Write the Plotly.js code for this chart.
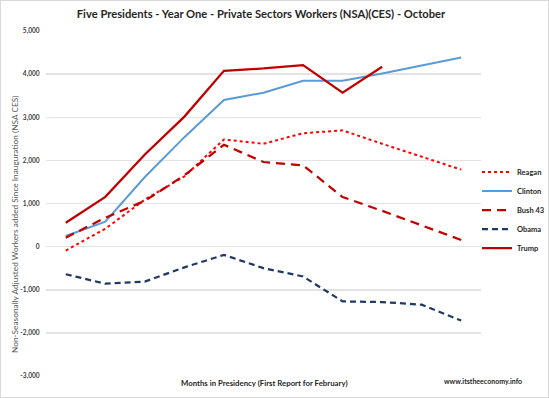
<!DOCTYPE html>
<html>
<head>
<meta charset="utf-8">
<script src="https://cdn.plot.ly/plotly-3.0.1.min.js"></script>
<style>
html,body{margin:0;padding:0;background:#fff;}
#wrap{position:relative;width:549px;height:398px;}
#chart{width:549px;height:398px;}
#frame{position:absolute;left:0;top:0;width:549px;height:398px;box-sizing:border-box;border:1px solid #D9D9D9;pointer-events:none;}
</style>
</head>
<body>
<div id="wrap"><div id="chart"></div><div id="frame"></div></div>
<script>
const months = [1,2,3,4,5,6,7,8,9,10,11];
const monthLabels = ["1","2","3","4","5","6","7","8","9","10","11"];
const reagan  = [-90, 415, 1090, 1630, 2485, 2385, 2630, 2695, 2385, 2090, 1785];
const clinton = [246, 577, 1615, 2538, 3400, 3570, 3846, 3846, 4015, 4208, 4385];
const bush43  = [208, 670, 1062, 1654, 2362, 1962, 1885, 1150, 830, 500, 154];
const obama   = [-640, -860, -810, -480, -192, -500, -692, -1270, -1285, -1346, -1715];
const trump   = [554, 1154, 2138, 3015, 4077, 4131, 4208, 3569, 4170];
const yTickVals = [-3000,-2000,-1000,0,1000,2000,3000,4000,5000];
const yTickText = ["-3,000","-2,000","-1,000","0","1,000","2,000","3,000","4,000","5,000"];

const FONT = "Lato, 'Open Sans', sans-serif";
// plot area in px: x 46..481, y 31..376
const PL = 46, PW = 435, PT = 31, PH = 345;
const px = v => (v - PL) / PW;
const py = v => (PT + PH - v) / PH;

function tr(name, y, color, dash, w){
  return {x: months.slice(0, y.length), y: y, name: name, type: 'scatter', mode: 'lines',
    line: {color: color, width: w, dash: dash}};
}
const data = [
  tr('Reagan', reagan, '#FF0000', 'dot', 2),
  tr('Clinton', clinton, '#5B9BD5', 'solid', 2),
  tr('Bush 43', bush43, '#C00000', '9px,6px', 2.25),
  tr('Obama', obama, '#1F3864', '6px,4px', 2.25),
  tr('Trump', trump, '#C00000', 'solid', 2.25)
];

const layout = {
  width: 549, height: 398,
  margin: {l: PL, r: 549 - PL - PW, t: PT, b: 398 - PT - PH, pad: 0, autoexpand: false},
  paper_bgcolor: '#fff', plot_bgcolor: '#fff',
  font: {family: FONT, color: '#404040'},
  showlegend: true,
  title: {text: '<b>Five Presidents - Year One - Private Sectors Workers (NSA)(CES) - October</b>',
    font: {family: FONT, size: 11.2, color: '#262626'}, x: px(261), xref: 'paper', xanchor: 'center', y: 1 - 14/398, yref: 'container', yanchor: 'middle'},
  xaxis: {
    range: [0.5, 11.5], showticklabels: false,
    showgrid: false, zeroline: false, showline: false, ticks: ''
  },
  xaxis2: {
    range: [0.5, 11.5], tickvals: months, ticktext: monthLabels, overlaying: 'x',
    anchor: 'free', position: 0.375, side: 'bottom',
    showgrid: false, zeroline: false, showline: false, ticks: '',
    tickfont: {family: FONT, size: 7.5, color: '#404040', weight: 'bold'}
  },
  yaxis: {
    range: [-3000, 5000], tickvals: yTickVals, ticktext: yTickText,
    showgrid: true, gridcolor: '#E3E3E3', gridwidth: 1.5, zeroline: false, showline: false,
    ticks: 'outside', ticklen: 4, tickcolor: 'rgba(0,0,0,0)',
    tickfont: {family: FONT, size: 6.6, color: '#404040', weight: 'bold'}
  },
  legend: {x: px(477), y: py(210), yanchor: 'middle', xanchor: 'left',
    font: {family: FONT, size: 7.5, color: '#262626', weight: 'bold'},
    itemwidth: 30, bgcolor: 'rgba(0,0,0,0)', tracegroupgap: 0},
  annotations: [
    {text: '<b>Months in Presidency (First Report for February)</b>', xref: 'paper', yref: 'paper',
      x: px(264), y: py(383), xanchor: 'center', yanchor: 'middle', showarrow: false, font: {family: FONT, size: 7.8, color: '#262626'}},
    {text: '<b>www.itstheeconomy.info</b>', xref: 'paper', yref: 'paper',
      x: px(483), y: py(381), xanchor: 'center', yanchor: 'middle', showarrow: false, font: {family: FONT, size: 7, color: '#262626'}},
    {text: 'Non-Seasonally Adjusted Workers added Since Inauguration (NSA CES)', xref: 'paper', yref: 'paper',
      x: px(15), y: py(225), textangle: -90, xanchor: 'center', yanchor: 'middle', showarrow: false, font: {family: FONT, size: 8.3, color: '#595959'}}
  ]
};

Plotly.newPlot('chart', data, layout, {displayModeBar: false, staticPlot: true});
</script>
</body>
</html>
